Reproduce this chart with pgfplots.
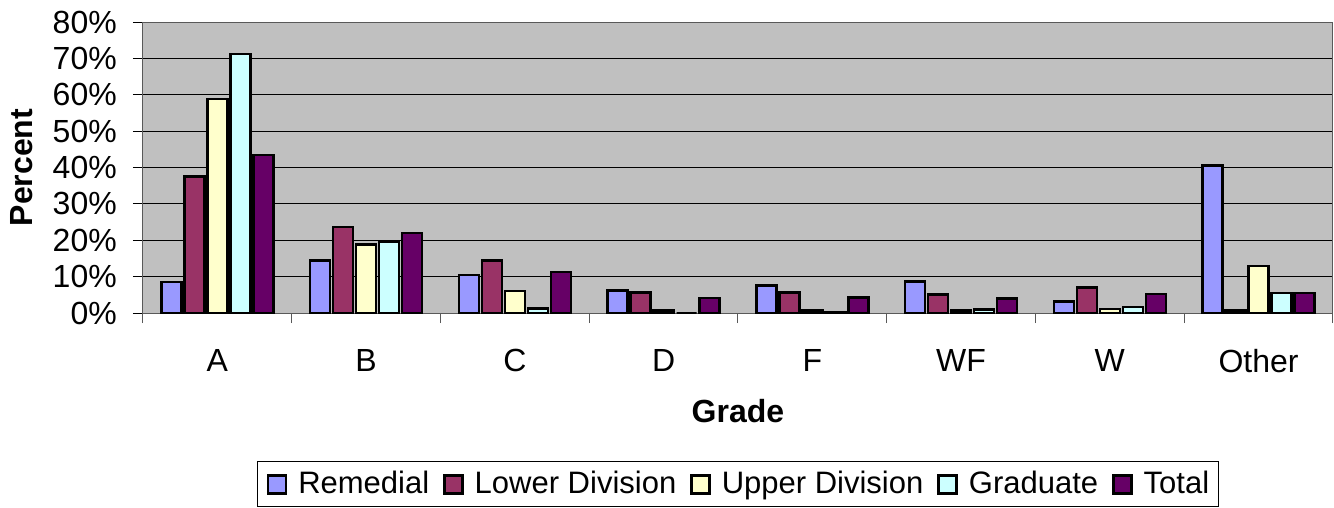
\documentclass[border=0pt]{standalone}
\usepackage{fontspec}
\setmainfont{Liberation Sans}
\usepackage{pgfplots}
\pgfplotsset{compat=1.18}
\definecolor{cRem}{HTML}{9999FF}
\definecolor{cLow}{HTML}{993366}
\definecolor{cUpp}{HTML}{FFFFCC}
\definecolor{cGra}{HTML}{CCFFFF}
\definecolor{cTot}{HTML}{660066}
\definecolor{bgray}{HTML}{C0C0C0}
\begin{document}
\begin{tikzpicture}
\begin{axis}[
  at={(0pt,0pt)}, anchor=south west,
  scale only axis, width=1190pt, height=291pt,
  xmin=-0.5, xmax=7.5, ymin=0, ymax=80,
  ybar=3pt, bar width=20pt,
  axis background/.style={fill=bgray},
  axis line style={draw=gray!70!black, line width=1pt},
  ymajorgrids, grid style={black, line width=1pt},
  ytick={0,10,...,80},
  yticklabel={\pgfmathprintnumber{\tick}\%},
  /pgf/number format/assume math mode=true,
  xtick={-0.5,0.5,...,7.5},
  xticklabels={A,B,C,D,F,WF,W,Other},
  x tick label as interval,
  tick align=outside,
  major tick length=10pt,
  tick style={black, line width=1pt},
  x tick style={gray!70!black},
  ytick pos=left, xtick pos=bottom,
  every tick label/.append style={font=\fontsize{32}{38}\selectfont},
  yticklabel style={anchor=east, inner sep=0pt, xshift=-16pt},
  xticklabel style={anchor=north, inner sep=0pt, yshift=-26pt},
  xlabel={Grade}, ylabel={Percent},
  label style={font=\bfseries\fontsize{32}{38}\selectfont},
  xlabel style={at={(axis description cs:0.5,-0.3368)}, anchor=center},
  ylabel style={at={(axis description cs:-0.1017,0.5)}, anchor=center, rotate=0},
  legend columns=5,
  legend image code/.code={\draw[#1, line width=2.5pt] (0pt,0pt) rectangle (18pt,18pt);},
  legend style={at={(0.5,-0.5086)}, anchor=north, draw=black, line width=1pt,
    font=\fontsize{31}{37}\selectfont, inner xsep=9pt, inner ysep=10pt,
    nodes={inner sep=0pt, text height=22pt, text depth=3pt, anchor=base},
    /tikz/every odd column/.append style={column sep=11pt},
    /tikz/every even column/.append style={column sep=14pt}},
  every axis plot/.append style={draw=black, line width=2.5pt},
]
\addplot[fill=cRem] coordinates {(0,8.5) (1,14.5) (2,10.4) (3,6.2) (4,7.6) (5,8.7) (6,3.2) (7,40.5)};
\addlegendentry{Remedial}
\addplot[fill=cLow] coordinates {(0,37.5) (1,23.7) (2,14.5) (3,5.6) (4,5.7) (5,5.1) (6,7.0) (7,0.7)};
\addlegendentry{Lower Division}
\addplot[fill=cUpp] coordinates {(0,58.8) (1,18.8) (2,6.0) (3,0.7) (4,0.7) (5,0.7) (6,1.1) (7,12.9)};
\addlegendentry{Upper Division}
\addplot[fill=cGra] coordinates {(0,71.2) (1,19.6) (2,1.2) (3,0.0) (4,0.3) (5,0.9) (6,1.7) (7,5.5)};
\addlegendentry{Graduate}
\addplot[fill=cTot] coordinates {(0,43.4) (1,22.0) (2,11.3) (3,4.1) (4,4.2) (5,4.0) (6,5.2) (7,5.5)};
\addlegendentry{Total}
\end{axis}
\pgfresetboundingbox
\path (-143pt,-195pt) rectangle (1191pt,313pt);
\end{tikzpicture}
\end{document}
